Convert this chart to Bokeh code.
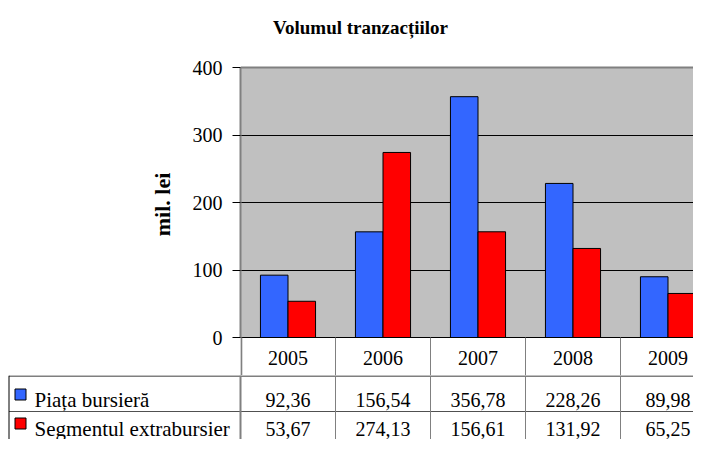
from bokeh.plotting import figure
from bokeh.models import Range1d, FixedTicker
from bokeh.layouts import column
from bokeh.embed import file_html
from bokeh.resources import INLINE
from bokeh.core.properties import value

# ---- data ----
years = ["2005", "2006", "2007", "2008", "2009"]
piata = [92.36, 156.54, 356.78, 228.26, 89.98]
segment = [53.67, 274.13, 156.61, 131.92, 65.25]
series_names = ["Piața bursieră", "Segmentul extrabursier"]
series_colors = ["#3366FF", "#FF0000"]
y_ticks = [0, 100, 200, 300, 400]
title_text = "Volumul tranzacțiilor"
y_label = "mil. lei"

FONT_NAME = "Liberation Serif"
FONT = value(FONT_NAME)
W = 693
CAT_PX = 95.0          # width of one category column
LEFT = 240             # left edge of the plot area
Y0_PX = 337            # pixel row of value 0
Y400_PX = 67           # pixel row of value 400
ROW0_BOTTOM = 375      # bottom of the category row
Y_MAX = 400.0
ppu = (Y0_PX - Y400_PX) / Y_MAX
x_end = (W - LEFT) / CAT_PX
y_start = -(ROW0_BOTTOM - Y0_PX) / ppu
y_end = Y_MAX + Y400_PX / ppu

p = figure(width=W, height=ROW0_BOTTOM,
           x_range=Range1d(0, x_end), y_range=Range1d(y_start, y_end),
           output_backend="svg", toolbar_location=None, x_axis_type=None,
           min_border_left=LEFT, min_border_right=0,
           min_border_top=0, min_border_bottom=0, frame_align=False)
p.background_fill_color = "white"
p.border_fill_color = "white"
p.outline_line_color = None

# plot area background and top border
p.quad(left=[0], right=[x_end], bottom=[0], top=[Y_MAX], fill_color="#C0C0C0",
       line_color=None, level="image")
p.segment(x0=[0], y0=[Y_MAX], x1=[x_end], y1=[Y_MAX], line_color="#808080", line_width=2)

# grid
p.xgrid.visible = False
p.ygrid.ticker = FixedTicker(ticks=[t for t in y_ticks if t < Y_MAX])
p.ygrid.grid_line_color = "black"
p.ygrid.grid_line_width = 1

# bars
bw = 0.29
xs = [i + 0.5 for i in range(len(years))]
p.vbar(x=[x - bw / 2 for x in xs], top=piata, width=bw, bottom=0,
       fill_color=series_colors[0], line_color="black", line_width=1)
p.vbar(x=[x + bw / 2 for x in xs], top=segment, width=bw, bottom=0,
       fill_color=series_colors[1], line_color="black", line_width=1)
p.segment(x0=[0], y0=[0], x1=[x_end], y1=[0], line_color="black", line_width=1)

# y axis
ya = p.yaxis[0]
ya.ticker = FixedTicker(ticks=y_ticks)
ya.bounds = (0, Y_MAX)
ya.axis_line_color = "#808080"
ya.axis_line_width = 2
ya.major_tick_out = 8
ya.major_tick_in = 0
ya.major_tick_line_color = "black"
ya.minor_tick_line_color = None
ya.major_label_text_font = FONT_NAME
ya.major_label_text_font_size = "20px"
ya.major_label_text_color = "black"
ya.major_label_standoff = 10
# trailing no-break spaces shift the centred label down to the middle of the value axis
ya.axis_label = y_label + "\u00a0" * 6
ya.axis_label_text_font = FONT_NAME
ya.axis_label_text_font_size = "22px"
ya.axis_label_text_font_style = "bold"
ya.axis_label_text_color = "black"
ya.axis_label_standoff = 15

# category row of the data table
p.segment(x0=[0.8 / CAT_PX], y0=[y_start], x1=[0.8 / CAT_PX], y1=[0],
          line_color="#808080", line_width=2)
seps = list(range(1, len(years) + 1))
p.segment(x0=seps, y0=[y_start] * len(seps), x1=seps, y1=[0] * len(seps),
          line_color="#808080", line_width=1)
p.text(x=xs, y=[-(357 - Y0_PX) / ppu] * len(xs), text=years,
       text_font=FONT, text_font_size="20px", text_align="center",
       text_baseline="middle", text_color="black")

# title
p.text(x=[(360 - LEFT) / CAT_PX], y=[Y_MAX + (Y400_PX - 27) / ppu], text=[title_text],
       text_font=FONT, text_font_size="19px", text_font_style="bold",
       text_align="center", text_baseline="middle", text_color="black")

# ---- data table rows ----
TH = 64
t = figure(width=W, height=TH, x_range=Range1d(-LEFT / CAT_PX, x_end),
           y_range=Range1d(TH, 0), output_backend="svg", toolbar_location=None,
           x_axis_type=None, y_axis_type=None, frame_align=False,
           min_border_left=0, min_border_right=0, min_border_top=0, min_border_bottom=0)
t.grid.visible = False
t.outline_line_color = None
t.background_fill_color = "white"
t.border_fill_color = "white"

x_left = (8.5 - LEFT) / CAT_PX
t.segment(x0=[x_left], y0=[0.5], x1=[x_end], y1=[0.5], line_color="black", line_width=1)
t.segment(x0=[x_left], y0=[36], x1=[x_end], y1=[36], line_color="#505050", line_width=1)
t.segment(x0=[x_left], y0=[0], x1=[x_left], y1=[TH], line_color="black", line_width=1)
t.segment(x0=[0], y0=[0], x1=[0], y1=[TH], line_color="#808080", line_width=2)
vl = list(range(1, len(years) + 1))
t.segment(x0=vl, y0=[0] * len(vl), x1=vl, y1=[TH] * len(vl),
          line_color="#808080", line_width=1)

row_base = [24, 53]
key_y = [19, 48]
for r, (vals, name, col) in enumerate(zip([piata, segment], series_names, series_colors)):
    t.scatter(x=[(20 - LEFT) / CAT_PX], y=[key_y[r]], marker="square", size=11,
              fill_color=col, line_color="black", line_width=1)
    t.text(x=[(34 - LEFT) / CAT_PX], y=[row_base[r]], text=[name],
           text_font=FONT, text_font_size="21px", text_align="left",
           text_baseline="alphabetic", text_color="black")
    t.text(x=xs, y=[row_base[r]] * len(vals),
           text=[f"{v:.2f}".replace(".", ",") for v in vals],
           text_font=FONT, text_font_size="20px", text_align="center",
           text_baseline="alphabetic", text_color="black")

layout = column(p, t, spacing=0)
open("out.html", "w").write(file_html(layout, INLINE))
